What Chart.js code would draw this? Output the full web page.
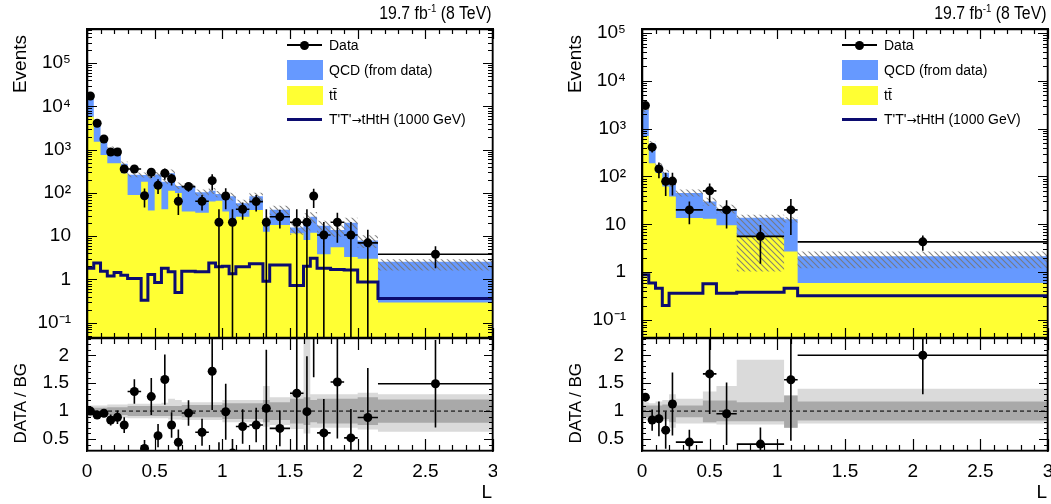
<!DOCTYPE html>
<html>
<head>
<meta charset="utf-8">
<script src="https://cdn.jsdelivr.net/npm/chart.js@4.4.1/dist/chart.umd.min.js"></script>
<style>
  html, body { margin: 0; padding: 0; background: #fff; }
  body { width: 1051px; height: 504px; position: relative; overflow: hidden;
         font-family: "Liberation Sans", Arial, Helvetica, sans-serif; color: #000; }
  .panel { position: absolute; top: 0; width: 497px; height: 504px; }
  canvas { position: absolute; left: 0; }
  .lumi { position: absolute; right: 5px; top: 3px; font-size: 18px; line-height: 20px; white-space: nowrap;
          transform: scaleX(0.88); transform-origin: right center; }
  .lumi sup { font-size: 11px; vertical-align: 7px; line-height: 0; }
  .ytitle { position: absolute; writing-mode: vertical-rl; transform: rotate(180deg); white-space: nowrap; }
  .ev { left: 9px; top: 35px; font-size: 19px; line-height: 22px; }
  .rt { left: 11px; top: 363px; font-size: 17px; line-height: 20px; }
  .xtitle { position: absolute; right: 5px; top: 481px; font-size: 19px; line-height: 22px; }
  .leg { position: absolute; left: 287px; top: 0; font-size: 14px; }
  .leg .row { position: absolute; left: 0; width: 250px; height: 20px; }
  .leg .tx { position: absolute; left: 42px; top: 0; line-height: 20px; white-space: nowrap; }
  .leg .sw { position: absolute; left: 0; }
  .arrow { font-family: "DejaVu Sans", sans-serif; font-size: 12px; }
</style>
</head>
<body>

<div class="panel" id="left" style="left:0">
  <canvas id="left-up" width="497" height="330" style="top:10px"></canvas>
  <canvas id="left-dn" width="497" height="168" style="top:336px"></canvas>
</div>
<div class="panel" id="right" style="left:555px">
  <canvas id="right-up" width="497" height="330" style="top:10px"></canvas>
  <canvas id="right-dn" width="497" height="168" style="top:336px"></canvas>
</div>

<script>
// --- Axis ticks ---
const xTickVals = [0, 0.5, 1, 1.5, 2, 2.5, 3];
const logTickVals = [0.1, 1, 10, 100, 1000, 10000, 100000];
const logTickLabels = ['10\u207B\u00B9', '1', '10', '10\u00B2', '10\u00B3', '10\u2074', '10\u2075'];
const ratioTickVals = [0.5, 1, 1.5, 2];

// --- Left panel (bin edges in L) ---
const leftEdges = [0, 0.05, 0.1, 0.15, 0.2, 0.25, 0.3, 0.4, 0.45, 0.5, 0.55, 0.6, 0.65, 0.7, 0.8, 0.9,
                   0.95, 1.0, 1.05, 1.1, 1.2, 1.3, 1.35, 1.5, 1.6, 1.65, 1.7, 1.8, 1.9, 2.0, 2.15, 3.0];
const leftData = [17500, 4080, 1770, 885, 885, 357, 357, 86, 300, 150, 285, 213, 64, 140, 64, 192,
                  21, 85, 21, 42, 63, 21, 28, 21, 21, 85, 10.6, 21, 10.6, 7.0, 3.8];
const leftDataErr = [400, 175, 110, 105, 120, 67, 58, 40, 79, 56, 82, 65, 33, 33, 25, 78,
                     21, 43, 21, 18, 26, 21, 13, 21, 21, 40, 10.6, 14, 10.6, 7.0, 2.0];
const leftTtbar = [5800, 1530, 750, 484, 484, 284, 89, 181, 39, 144, 42, 112, 100, 37, 35, 63,
                   66, 37, 18, 28, 40, 12.6, 18, 11.6, 8.1, 12, 3.8, 5.5, 3.3, 3.0, 0.29];
const leftQcd = [11700, 2860, 1090, 570, 510, 192, 175, 80, 199, 124, 140, 172, 45, 108, 68, 49,
                 29, 49, 66, 30, 44, 7.4, 22.6, 4.3, 13.1, 16, 13.6, 8.3, 17.1, 4.9, 2.26];
const leftSignal = [1.8, 2.4, 1.55, 1.2, 1.45, 1.25, 1.05, 0.33, 1.3, 0.85, 1.8, 1.5, 0.5, 1.55, 1.5, 2.4,
                    1.95, 2.0, 1.35, 1.95, 2.3, 0.9, 2.15, 0.72, 2.0, 3.1, 1.8, 1.7, 1.65, 0.87, 0.36];
const leftStatLo = [0.94, 0.94, 0.94, 0.93, 0.93, 0.93, 0.91, 0.91, 0.91, 0.91, 0.91, 0.91, 0.91, 0.89, 0.89, 0.89,
                    0.89, 0.86, 0.86, 0.86, 0.86, 0.8, 0.84, 0.78, 0.75, 0.8, 0.78, 0.78, 0.78, 0.75, 0.79];
const leftStatHi = [1.06, 1.06, 1.06, 1.07, 1.07, 1.07, 1.09, 1.09, 1.09, 1.09, 1.09, 1.09, 1.09, 1.11, 1.11, 1.11,
                    1.11, 1.14, 1.14, 1.14, 1.14, 1.2, 1.16, 1.22, 1.25, 1.2, 1.22, 1.22, 1.22, 1.25, 1.21];
const leftTotLo = [0.9, 0.9, 0.9, 0.88, 0.88, 0.88, 0.87, 0.87, 0.87, 0.87, 0.87, 0.85, 0.85, 0.84, 0.84, 0.84,
                   0.84, 0.8, 0.8, 0.8, 0.8, 0.72, 0.75, 0.68, 0.6, 0.7, 0.7, 0.7, 0.7, 0.67, 0.63];
const leftTotHi = [1.1, 1.1, 1.1, 1.12, 1.12, 1.12, 1.13, 1.13, 1.13, 1.13, 1.15, 1.22, 1.2, 1.16, 1.16, 1.16,
                   1.16, 1.2, 1.2, 1.2, 1.2, 1.45, 1.25, 1.35, 2.4, 1.3, 1.3, 1.3, 1.3, 1.33, 1.3];
const leftHatchLo = leftTotLo;
const leftHatchHi = [1.1, 1.1, 1.1, 1.12, 1.12, 1.12, 1.13, 1.13, 1.13, 1.13, 1.15, 1.22, 1.2, 1.16, 1.16, 1.16,
                     1.16, 1.2, 1.2, 1.2, 1.2, 1.45, 1.25, 1.35, 1.6, 1.3, 1.3, 1.3, 1.3, 1.33, 1.14];

// --- Right panel ---
const rightEdges = [0, 0.05, 0.1, 0.15, 0.2, 0.25, 0.45, 0.55, 0.7, 1.05, 1.15, 3.0];
const rightData = [3050, 410, 144, 79, 80, 20, 50, 20, 5.6, 20, 4.3];
const rightDataErr = [180, 93, 52, 40, 40, 10, 21.6, 11.8, 4.1, 14, 1.5];
const rightTtbar = [700, 190, 118, 62, 38, 13.5, 13, 9.5, 5.6, 2.7, 0.59];
const rightQcd = [1740, 298, 49, 58, 33, 31.5, 17, 11.5, 8.1, 10.1, 1.56];
const rightSignal = [0.88, 0.59, 0.46, 0.2, 0.36, 0.36, 0.57, 0.36, 0.38, 0.46, 0.32];
const rightStatLo = [0.89, 0.89, 0.88, 0.86, 0.80, 0.89, 0.80, 0.82, 0.82, 0.70, 0.83];
const rightStatHi = [1.10, 1.10, 1.10, 1.12, 1.20, 1.10, 1.19, 1.19, 1.16, 1.28, 1.17];
const rightTotLo = [0.84, 0.87, 0.85, 0.82, 0.70, 0.78, 0.78, 0.76, 0.76, 0.70, 0.78];
const rightTotHi = [1.16, 1.14, 1.17, 1.20, 1.30, 1.22, 1.35, 1.45, 1.92, 1.28, 1.40];
const rightHatchLo = [0.9, 0.87, 0.85, 0.85, 0.85, 0.85, 0.8, 0.8, 0.075, 0.85, 0.56];
const rightHatchHi = [1.1, 1.13, 1.15, 1.15, 1.15, 1.18, 1.2, 1.22, 1.16, 1.1, 1.26];

// --- Colors ---
const YELLOW = '#ffff33';
const QCD_BLUE = '#6699ff';
const NAVY = '#0c0c70';
const LIGHT_GREY = '#dadada';
const DARK_GREY = '#a9a9a9';

Chart.defaults.font.family = '"Liberation Sans", Arial, Helvetica, sans-serif';
Chart.defaults.color = '#000';

const hatch = (() => {
    const c = document.createElement('canvas');
    c.width = c.height = 6;
    const g = c.getContext('2d');
    g.strokeStyle = 'rgba(120,120,120,0.9)';
    g.lineWidth = 1.1;
    g.beginPath();
    g.moveTo(0, 0); g.lineTo(6, 6);
    g.moveTo(-1, 5); g.lineTo(1, 7);
    g.moveTo(5, -1); g.lineTo(7, 1);
    g.stroke();
    return g.createPattern(c, 'repeat');
})();

// --- Helpers ---
const steps = (edges, vals) => {
    const pts = [];
    vals.forEach((v, i) => pts.push({ x: edges[i], y: v }, { x: edges[i + 1], y: v }));
    return pts;
};

const centers = (edges, vals) => vals.map((v, i) => ({ x: (edges[i] + edges[i + 1]) / 2, y: v }));

const errorBars = (edges, vals, errs, floor) => {
    const pts = [];
    vals.forEach((v, i) => {
        const c = (edges[i] + edges[i + 1]) / 2;
        pts.push({ x: c, y: Math.max(v - errs[i], floor) }, { x: c, y: v + errs[i] }, { x: c, y: null });
        pts.push({ x: edges[i], y: v }, { x: edges[i + 1], y: v }, { x: edges[i + 1], y: null });
    });
    return pts;
};

const logTicks = (scale) => {
    const out = [];
    for (let d = -2; d <= 6; d++) {
        for (let k = 1; k <= 9; k++) {
            const v = k * Math.pow(10, d);
            if (v >= scale.min && v <= scale.max) out.push([v, k === 1]);
        }
    }
    return out;
};

const ratioTicks = () => {
    const out = [];
    for (let i = 3; i <= 23; i++) out.push([i / 10, i % 5 === 0]);
    return out;
};

// frame + inward ROOT-style ticks, drawn on an overlay canvas from the chart's own scales
const addFrame = (chart, opts) => {
    const src = chart.canvas;
    const ov = document.createElement('canvas');
    ov.width = src.width;
    ov.height = src.height;
    ov.style.top = src.style.top;
    src.parentNode.appendChild(ov);

    const ctx = ov.getContext('2d');
    const a = chart.chartArea;
    const { x, y } = chart.scales;
    ctx.strokeStyle = '#000';
    ctx.lineWidth = 1.2;
    ctx.beginPath();
    for (let i = 0; i <= 30; i++) {
        const px = Math.round(x.getPixelForValue(i / 10)) + 0.5;
        const len = i % 5 === 0 ? opts.xMajor : opts.xMinor;
        ctx.moveTo(px, a.bottom); ctx.lineTo(px, a.bottom - len);
        ctx.moveTo(px, a.top); ctx.lineTo(px, a.top + len);
    }
    const yt = opts.kind === 'log' ? logTicks(y) : ratioTicks();
    yt.forEach(([v, major]) => {
        const py = Math.round(y.getPixelForValue(v)) + 0.5;
        const len = major ? opts.yMajor : opts.yMinor;
        ctx.moveTo(a.left, py); ctx.lineTo(a.left + len, py);
        ctx.moveTo(a.right, py); ctx.lineTo(a.right - len, py);
    });
    ctx.stroke();
    ctx.lineWidth = 1.5;
    ctx.strokeRect(a.left + 0.5, a.top + 0.5, a.right - a.left - 1, a.bottom - a.top - 1);
};

// axis edges drawn by the library on top of the datasets
const edgeBorder = { display: true, color: '#000', width: 1.5, z: 1 };
const fixY = (s) => { s.width = 87; s.paddingTop = 0; s.paddingBottom = 0; };
const zeroX = (s) => { s.height = 0; s.paddingLeft = 0; s.paddingRight = 0; };
const zeroY = (s) => { s.width = 0; s.paddingTop = 0; s.paddingBottom = 0; };
const sideAxes = (yType, yMin, yMax) => ({
    x2: { type: 'linear', position: 'top', min: 0, max: 3, grid: { display: false }, ticks: { display: false }, border: edgeBorder, afterFit: zeroX },
    y2: { type: yType, position: 'right', min: yMin, max: yMax, grid: { display: false }, ticks: { display: false }, border: edgeBorder, afterFit: zeroY },
});

const buildPanel = (p) => {
    const total = p.ttbar.map((t, i) => t + p.qcd[i]);
    const ratio = p.data.map((d, i) => d / total[i]);
    const ratioErr = p.err.map((e, i) => e / total[i]);
    const hatchHi = total.map((t, i) => t * p.hatchHi[i]);
    const hatchLo = total.map((t, i) => t * p.hatchLo[i]);

    const baseOptions = {
        responsive: false,
        animation: false,
        events: [],
        elements: { point: { radius: 0 }, line: { tension: 0 } },
    };

    const upper = new Chart(document.getElementById(p.id + '-up'), {
        type: 'line',
        data: {
            datasets: [
                { data: centers(p.edges, p.data), showLine: false, pointRadius: 4.5, pointBackgroundColor: '#000', pointBorderWidth: 0, order: 0 },
                { data: errorBars(p.edges, p.data, p.err, 1e-4), borderColor: '#000', borderWidth: 1.6, order: 1 },
                { data: steps(p.edges, p.signal), borderColor: NAVY, borderWidth: 3, order: 2 },
                { data: steps(p.edges, hatchHi), borderWidth: 0, fill: { target: 4 }, backgroundColor: hatch, order: 3 },
                { data: steps(p.edges, hatchLo), borderWidth: 0, order: 3 },
                { data: steps(p.edges, p.ttbar), borderWidth: 0, fill: 'start', backgroundColor: YELLOW, order: 4 },
                { data: steps(p.edges, total), borderWidth: 0, fill: 'start', backgroundColor: QCD_BLUE, order: 5 },
            ]
        },
        options: {
            ...baseOptions,
            layout: { autoPadding: false, padding: { top: 19, right: 4, bottom: 2, left: 0 } },
            plugins: { legend: { display: false }, tooltip: { enabled: false } },
            scales: {
                x: {
                    type: 'linear', min: 0, max: 3,
                    grid: { display: false }, ticks: { display: false }, border: edgeBorder, afterFit: zeroX
                },
                y: {
                    type: 'logarithmic', min: p.yMin, max: p.yMax,
                    grid: { display: false }, border: edgeBorder,
                    afterBuildTicks: (s) => { s.ticks = logTickVals.map(v => ({ value: v })); },
                    afterFit: fixY,
                    ticks: {
                        padding: 8, font: { size: 19 }, autoSkip: false,
                        callback: (v) => logTickLabels[logTickVals.indexOf(v)] ?? ''
                    }
                },
                ...sideAxes('logarithmic', p.yMin, p.yMax)
            }
        }
    });
    addFrame(upper, { xMajor: 10, xMinor: 5, yMajor: 10, yMinor: 5, kind: 'log' });

    const lower = new Chart(document.getElementById(p.id + '-dn'), {
        type: 'line',
        data: {
            datasets: [
                { data: centers(p.edges, ratio), showLine: false, pointRadius: 4.5, pointBackgroundColor: '#000', pointBorderWidth: 0, order: 0 },
                { data: errorBars(p.edges, ratio, ratioErr, -1), borderColor: '#000', borderWidth: 1.6, order: 1 },
                { data: [{ x: 0, y: 1 }, { x: 3, y: 1 }], borderColor: '#444', borderWidth: 1.6, borderDash: [4, 3], order: 2 },
                { data: steps(p.edges, p.statHi), borderWidth: 0, fill: { target: 4 }, backgroundColor: DARK_GREY, order: 3 },
                { data: steps(p.edges, p.statLo), borderWidth: 0, order: 3 },
                { data: steps(p.edges, p.totHi), borderWidth: 0, fill: { target: 6 }, backgroundColor: LIGHT_GREY, order: 4 },
                { data: steps(p.edges, p.totLo), borderWidth: 0, order: 4 },
            ]
        },
        options: {
            ...baseOptions,
            layout: { autoPadding: false, padding: { top: 2, right: 4, bottom: 0, left: 0 } },
            plugins: { legend: { display: false }, tooltip: { enabled: false } },
            scales: {
                x: {
                    type: 'linear', min: 0, max: 3,
                    grid: { display: false }, border: edgeBorder,
                    afterBuildTicks: (s) => { s.ticks = xTickVals.map(v => ({ value: v })); },
                    afterFit: (s) => { s.height = 53; s.paddingLeft = 0; s.paddingRight = 0; },
                    ticks: { padding: 1, font: { size: 19 }, autoSkip: false, maxRotation: 0, callback: (v) => String(v) }
                },
                y: {
                    type: 'linear', min: 0.285, max: 2.31,
                    grid: { display: false }, border: edgeBorder,
                    afterBuildTicks: (s) => { s.ticks = ratioTickVals.map(v => ({ value: v })); },
                    afterFit: fixY,
                    ticks: { padding: 10, font: { size: 19 }, autoSkip: false, callback: (v) => String(v) }
                },
                ...sideAxes('linear', 0.285, 2.31)
            }
        }
    });
    addFrame(lower, { xMajor: 12, xMinor: 6, yMajor: 9, yMinor: 4, kind: 'ratio' });

    // --- Text: lumi, axis titles, legend ---
    const panel = document.getElementById(p.id);
    panel.insertAdjacentHTML('beforeend', `
        <div class="lumi">19.7 fb<sup>-1</sup> (8 TeV)</div>
        <div class="ytitle ev">Events</div>
        <div class="ytitle rt">DATA / BG</div>
        <div class="xtitle">L</div>
        <div class="leg">
            <div class="row" style="top:35px">
                <div class="sw" style="top:9px;width:35px;height:2px;background:#000"></div>
                <div class="sw" style="top:5.5px;left:13px;width:9px;height:9px;border-radius:50%;background:#000"></div>
                <div class="tx">Data</div>
            </div>
            <div class="row" style="top:60px">
                <div class="sw" style="top:0;width:36px;height:20px;background:${QCD_BLUE}"></div>
                <div class="tx">QCD (from data)</div>
            </div>
            <div class="row" style="top:85px">
                <div class="sw" style="top:1px;width:36px;height:19px;background:${YELLOW}"></div>
                <div class="tx">tt\u0304</div>
            </div>
            <div class="row" style="top:109px">
                <div class="sw" style="top:8.5px;width:35px;height:3px;background:${NAVY}"></div>
                <div class="tx">T'T'<span class="arrow">\u2192</span>tHtH (1000 GeV)</div>
            </div>
        </div>`);
};

buildPanel({
    id: 'left', edges: leftEdges, data: leftData, err: leftDataErr, ttbar: leftTtbar, qcd: leftQcd,
    signal: leftSignal, statLo: leftStatLo, statHi: leftStatHi, totLo: leftTotLo, totHi: leftTotHi,
    hatchLo: leftHatchLo, hatchHi: leftHatchHi, yMin: 0.044, yMax: 6.2e5
});
buildPanel({
    id: 'right', edges: rightEdges, data: rightData, err: rightDataErr, ttbar: rightTtbar, qcd: rightQcd,
    signal: rightSignal, statLo: rightStatLo, statHi: rightStatHi, totLo: rightTotLo, totHi: rightTotHi,
    hatchLo: rightHatchLo, hatchHi: rightHatchHi, yMin: 0.042, yMax: 1.21e5
});
</script>
</body>
</html>
